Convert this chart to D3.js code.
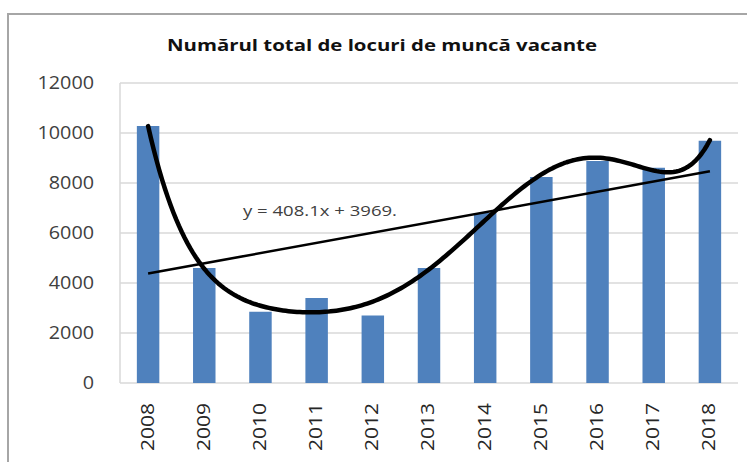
<!DOCTYPE html>
<html><head><meta charset="utf-8">
<script src="https://cdn.jsdelivr.net/npm/d3@7"></script>
<style>body{margin:0;background:#fff}svg{display:block}</style>
</head><body>
<svg id="c" width="747" height="462"></svg>
<script>
const categories = ["2008","2009","2010","2011","2012","2013","2014","2015","2016","2017","2018"];
const values = [10280,4600,2850,3400,2700,4600,6800,8240,8880,8610,9690];
const yTicks = [0,2000,4000,6000,8000,10000,12000];
const title = "Numărul total de locuri de muncă vacante";
const equationLabel = "y = 408.1x + 3969.";
const polyOrder = 6;

const svg = d3.select("#c");
const M = {left:120, right:738, top:83, bottom:383};
const FONT = "Open Sans, sans-serif";

svg.append("rect").attr("x",8).attr("y",14).attr("width",760).attr("height",470)
  .attr("fill","#fff").attr("stroke","#a6a6a6").attr("stroke-width",2);

svg.append("text").attr("x",382).attr("y",51).attr("text-anchor","middle")
  .attr("font-family",FONT).attr("font-weight","bold").attr("font-size",16.5)
  .attr("fill","#111").attr("textLength",430).attr("lengthAdjust","spacingAndGlyphs").text(title);

const x = d3.scaleBand().domain(categories).range([M.left, M.right]).paddingInner(0.6).paddingOuter(0.3);
const y = d3.scaleLinear().domain([0,12000]).range([M.bottom, M.top]);

// gridlines
svg.append("g").selectAll("line").data(yTicks).join("line")
  .attr("x1",M.left).attr("x2",M.right).attr("y1",d=>y(d)).attr("y2",d=>y(d))
  .attr("stroke","#d9d9d9").attr("stroke-width",1.5);
svg.append("line").attr("x1",M.left).attr("x2",M.left).attr("y1",M.top).attr("y2",M.bottom)
  .attr("stroke","#d9d9d9").attr("stroke-width",1.5);

// y axis labels
const yAxis = d3.axisLeft(y).tickValues(yTicks).tickSize(0).tickPadding(0).tickFormat(d3.format("d"));
const gy = svg.append("g").attr("transform",`translate(94,0)`).call(yAxis);
gy.select(".domain").remove();
gy.selectAll("text").attr("font-family",FONT).attr("font-size",18.5).attr("fill","#404040")
  .attr("textLength",d=>String(d).length*11.3).attr("lengthAdjust","spacingAndGlyphs");

// bars
svg.append("g").selectAll("rect").data(values).join("rect")
  .attr("x",(d,i)=>x(categories[i])).attr("width",x.bandwidth())
  .attr("y",d=>y(d)).attr("height",d=>y(0)-y(d)).attr("fill","#4f81bd");

// x axis labels
const xAxis = d3.axisBottom(x).tickSize(0).tickPadding(0);
const gx = svg.append("g").attr("transform",`translate(0,${M.bottom})`).call(xAxis);
gx.select(".domain").remove();
gx.selectAll("text").attr("font-family",FONT).attr("font-size",18.5).attr("fill","#262626")
  .attr("text-anchor","end").attr("transform","rotate(-90)").attr("x",-20).attr("y",-1).attr("dy","0.35em")
  .attr("textLength",48).attr("lengthAdjust","spacingAndGlyphs");

// linear trend (least squares)
const n = values.length;
const xs = values.map((d,i)=>i+1);
const mx = d3.mean(xs), my = d3.mean(values);
const slope = d3.sum(xs.map((xi,i)=>(xi-mx)*(values[i]-my)))/d3.sum(xs.map(xi=>(xi-mx)**2));
const icpt = my - slope*mx;
const xc = i => x(categories[i]) + x.bandwidth()/2;
const step = xc(1)-xc(0);
const px = t => xc(0) + (t-1)*step;
svg.append("line").attr("x1",px(1)).attr("x2",px(n)).attr("y1",y(slope*1+icpt)).attr("y2",y(slope*n+icpt))
  .attr("stroke","#000").attr("stroke-width",2.5);

// polynomial trend (least squares)
function polyfit(xv, yv, k){
  const m = k+1, A = Array.from({length:m},()=>new Array(m+1).fill(0));
  for(let r=0;r<m;r++){for(let c=0;c<m;c++){A[r][c]=d3.sum(xv.map(t=>t**(r+c)));} A[r][m]=d3.sum(xv.map((t,i)=>yv[i]*t**r));}
  for(let c=0;c<m;c++){let p=c;for(let r=c+1;r<m;r++) if(Math.abs(A[r][c])>Math.abs(A[p][c])) p=r;[A[c],A[p]]=[A[p],A[c]];
    for(let r=0;r<m;r++){if(r===c) continue; const f=A[r][c]/A[c][c]; for(let cc=c;cc<=m;cc++) A[r][cc]-=f*A[c][cc];}}
  return A.map((row,i)=>row[m]/row[i]);
}
const xcen = xs.map(t=>(t-6)/5);
const coef = polyfit(xcen, values, polyOrder);
const pv = t => { const u=(t-6)/5; return coef.reduce((s,c,i)=>s+c*u**i,0); };
const pts = d3.range(1, n+0.001, 0.05).map(t=>[px(t), y(pv(t))]);
svg.append("path").attr("d", d3.line()(pts)).attr("fill","none").attr("stroke","#000").attr("stroke-width",4.5)
  .attr("stroke-linejoin","round").attr("stroke-linecap","round");

svg.append("text").attr("x",243).attr("y",216).attr("font-family",FONT).attr("font-size",15)
  .attr("fill","#404040").attr("textLength",154).attr("lengthAdjust","spacingAndGlyphs").text(equationLabel);
</script>
</body></html>
